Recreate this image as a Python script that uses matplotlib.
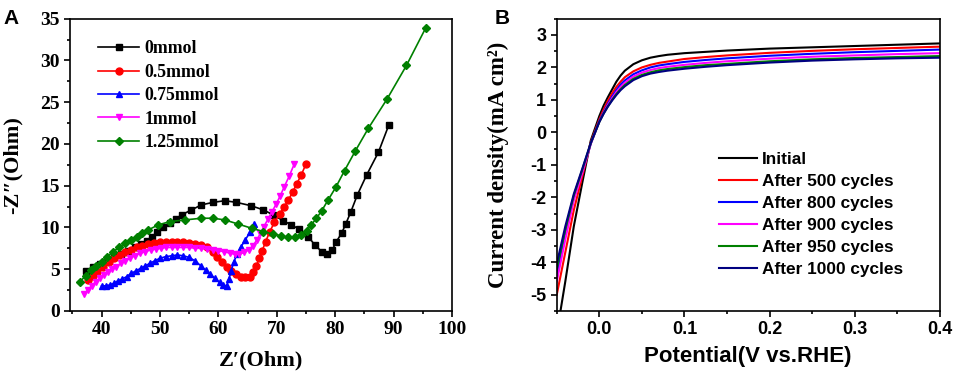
import matplotlib
matplotlib.use('Agg')
import matplotlib.pyplot as plt
from matplotlib.ticker import MultipleLocator

# panel A: Nyquist data (Z', -Z'')
z0_x = [37.4, 38.6, 39.8, 41.0, 42.2, 43.4, 44.6, 45.8, 46.8, 47.7, 48.6, 49.5, 50.6, 51.7, 52.7, 53.7,
        55.4, 57.1, 59.1, 61.1, 63.1, 65.6, 67.7, 69.4, 71.1, 72.5, 73.8, 75.4, 76.5, 77.7, 78.6, 79.5,
        80.2, 81.1, 81.8, 82.7, 83.8, 85.4, 87.4, 89.2]
z0_y = [4.8, 5.2, 5.6, 6.0, 6.4, 6.8, 7.2, 7.6, 8.0, 8.4, 8.9, 9.4, 10.0, 10.5, 11.0, 11.5,
        12.1, 12.7, 13.0, 13.2, 13.0, 12.6, 12.1, 11.5, 10.8, 10.3, 9.8, 8.9, 7.9, 7.1, 6.8, 7.3,
        8.3, 9.3, 10.4, 11.9, 13.9, 16.3, 19.0, 22.3]

z05_x = [37.7, 38.5, 39.3, 40.3, 41.2, 42.1, 43.1, 44.0, 45.0, 46.0, 47.0, 48.0, 49.0, 50.0, 51.0,
         52.0, 53.0, 54.0, 55.0, 56.0, 57.0, 58.0, 59.0, 59.8, 60.6, 61.4, 62.2, 63.0, 63.8, 64.6,
         65.4, 66.0, 66.5, 67.0, 67.5, 68.1, 68.8, 69.6, 70.5, 71.3, 72.0, 72.7, 73.4, 74.2, 75.0]
z05_y = [3.7, 4.2, 4.7, 5.3, 5.8, 6.3, 6.7, 7.0, 7.3, 7.6, 7.8, 8.0, 8.1, 8.2, 8.2,
         8.2, 8.2, 8.2, 8.1, 8.0, 7.9, 7.6, 7.0, 6.5, 5.9, 5.3, 4.8, 4.4, 4.1, 4.0,
         4.1, 4.6, 5.4, 6.3, 7.2, 8.3, 9.5, 10.6, 11.6, 12.5, 13.3, 14.2, 15.2, 16.3, 17.6]

z075_x = [40.0, 40.7, 41.4, 42.1, 42.8, 43.5, 44.3, 45.1, 45.9, 46.7, 47.5, 48.3, 49.1, 50.0, 51.0,
          52.0, 53.0, 54.0, 55.0, 56.0, 57.0, 57.8, 58.6, 59.4, 60.2, 60.8, 61.4, 61.8, 62.2, 62.6,
          63.2, 63.8, 64.6, 65.4, 66.1]
z075_y = [3.0, 3.0, 3.1, 3.3, 3.6, 3.8, 4.1, 4.5, 4.8, 5.1, 5.4, 5.7, 6.0, 6.3, 6.5,
          6.6, 6.7, 6.6, 6.4, 6.0, 5.4, 4.9, 4.4, 3.9, 3.4, 3.1, 3.0, 3.8, 4.8, 5.8,
          6.8, 7.6, 8.5, 9.4, 10.4]

z1_x = [37.0, 37.6, 38.3, 39.0, 39.7, 40.4, 41.1, 41.8, 42.5, 43.3, 44.1, 44.9, 45.7, 46.6, 47.5,
        48.4, 49.3, 50.2, 51.1, 52.0, 53.0, 54.0, 55.0, 56.0, 57.0, 58.0, 59.0, 60.0, 61.0, 62.0,
        62.8, 63.6, 64.4, 65.2, 65.9, 66.6, 67.2, 67.8, 68.5, 69.2, 69.9, 70.6, 71.3, 72.1, 73.0]
z1_y = [2.0, 2.5, 3.0, 3.5, 3.9, 4.3, 4.7, 5.0, 5.3, 5.7, 6.0, 6.3, 6.6, 6.9, 7.1,
        7.3, 7.4, 7.5, 7.6, 7.6, 7.6, 7.6, 7.6, 7.5, 7.5, 7.4, 7.3, 7.2, 7.1, 6.9,
        6.8, 6.8, 7.0, 7.3, 7.8, 8.5, 9.3, 10.1, 11.0, 11.9, 12.8, 13.8, 14.9, 16.1, 17.6]

z125_x = [36.3, 37.3, 38.2, 39.1, 40.0, 41.0, 42.0, 43.0, 44.0, 45.0, 46.0, 47.0, 48.0, 49.7, 51.7,
          54.3, 57.1, 59.1, 61.1, 63.4, 65.7, 67.7, 69.4, 70.8, 71.9, 73.1, 74.2, 75.1, 75.9, 76.8,
          77.7, 78.8, 80.1, 81.6, 83.4, 85.7, 88.9, 92.2, 95.5]
z125_y = [3.5, 4.2, 4.9, 5.4, 5.9, 6.5, 7.1, 7.6, 8.1, 8.5, 8.9, 9.3, 9.7, 10.3, 10.7,
          10.9, 11.1, 11.1, 10.9, 10.4, 9.9, 9.5, 9.2, 9.0, 8.8, 8.8, 9.1, 9.6, 10.3, 11.1,
          12.0, 13.3, 14.8, 16.8, 19.1, 21.9, 25.4, 29.4, 33.9]

nyq_labels = ['0mmol', '0.5mmol', '0.75mmol', '1mmol', '1.25mmol']

# panel B: polarization curves
pot = [-0.05, -0.04, -0.03, -0.02, -0.01, 0.0, 0.005, 0.01, 0.015, 0.02, 0.025, 0.03, 0.04, 0.05,
       0.06, 0.07, 0.08, 0.1, 0.125, 0.15, 0.2, 0.25, 0.3, 0.35, 0.4]
j_init = [-6.2, -4.6, -2.9, -1.55, -0.25, 0.5, 0.82, 1.08, 1.32, 1.56, 1.75, 1.9, 2.1, 2.22,
          2.3, 2.35, 2.39, 2.44, 2.48, 2.52, 2.58, 2.62, 2.66, 2.70, 2.74]
j_500 = [-5.0, -3.7, -2.4, -1.35, -0.3, 0.4, 0.7, 0.97, 1.2, 1.4, 1.56, 1.7, 1.88, 2.0,
         2.08, 2.14, 2.18, 2.26, 2.32, 2.37, 2.45, 2.51, 2.56, 2.60, 2.64]
j_800 = [-4.4, -3.1, -2.0, -1.2, -0.35, 0.35, 0.62, 0.88, 1.1, 1.3, 1.47, 1.6, 1.79, 1.91,
         2.0, 2.06, 2.1, 2.17, 2.23, 2.28, 2.36, 2.42, 2.47, 2.51, 2.55]
j_900 = [-4.6, -3.3, -2.1, -1.25, -0.35, 0.33, 0.6, 0.84, 1.05, 1.24, 1.4, 1.53, 1.72, 1.84,
         1.92, 1.98, 2.02, 2.08, 2.14, 2.19, 2.27, 2.33, 2.37, 2.41, 2.44]
j_950 = [-4.2, -3.0, -1.95, -1.15, -0.33, 0.32, 0.58, 0.8, 1.0, 1.18, 1.33, 1.46, 1.65, 1.77,
         1.85, 1.91, 1.95, 2.01, 2.07, 2.11, 2.19, 2.25, 2.29, 2.32, 2.35]
j_1000 = [-4.05, -2.9, -1.9, -1.12, -0.32, 0.32, 0.57, 0.79, 0.98, 1.15, 1.3, 1.42, 1.61, 1.73,
          1.81, 1.86, 1.9, 1.96, 2.02, 2.07, 2.15, 2.21, 2.25, 2.28, 2.30]
lsv_labels = ['Initial', 'After 500 cycles', 'After 800 cycles', 'After 900 cycles',
              'After 950 cycles', 'After 1000 cycles']

serif = ['Liberation Serif', 'DejaVu Serif']
sans = ['Liberation Sans', 'DejaVu Sans']

fig = plt.figure(figsize=(9.55, 3.75), dpi=100)

# ---- A ----
ax1 = fig.add_axes([0.0733, 0.171, 0.400, 0.779])
nyq = [(z0_x, z0_y, 'black', 's', 4), (z05_x, z05_y, '#FF0000', 'o', 5),
       (z075_x, z075_y, '#0000FF', '^', 5), (z1_x, z1_y, '#FF00FF', 'v', 5),
       (z125_x, z125_y, '#008000', 'D', 4.5)]
for (xs, ys, c, m, ms), lab in zip(nyq, nyq_labels):
    ax1.plot(xs, ys, color=c, marker=m, markersize=ms, linewidth=1.2, label=lab)
ax1.set_xlim(34.6, 100)
ax1.set_ylim(0, 35)
ax1.xaxis.set_major_locator(MultipleLocator(10))
ax1.xaxis.set_minor_locator(MultipleLocator(5))
ax1.yaxis.set_major_locator(MultipleLocator(5))
ax1.yaxis.set_minor_locator(MultipleLocator(2.5))
ax1.tick_params(which='both', direction='out', width=1.2, top=False, right=False)
ax1.tick_params(which='major', length=4)
ax1.tick_params(which='minor', length=2.5)
for lbl in ax1.get_xticklabels() + ax1.get_yticklabels():
    lbl.set_family(serif)
    lbl.set_fontweight('bold')
    lbl.set_fontsize(14)
ax1.set_xlabel('Z\u2032(Ohm)', family=serif, fontweight='bold', fontsize=16)
ax1.set_ylabel('-Z\u2033(Ohm)', family=serif, fontweight='bold', fontsize=16)
ax1.xaxis.set_label_coords(0.5, -0.135)
ax1.yaxis.set_label_coords(-0.125, 0.5)
for s in ax1.spines.values():
    s.set_linewidth(1.2)
ax1.legend(loc='upper left', bbox_to_anchor=(0.055, 0.95), frameon=False,
           prop={'family': serif, 'weight': 'bold', 'size': 12.8},
           handlelength=2.3, handletextpad=0.3, labelspacing=0.36, borderaxespad=0)
fig.text(0.004, 0.975, 'A', family=sans, fontweight='bold', fontsize=15, va='top')

# ---- B ----
ax2 = fig.add_axes([0.583, 0.171, 0.401, 0.779])
lsv = [(j_init, 'black'), (j_500, '#FF0000'), (j_800, '#0000FF'), (j_900, '#FF00FF'),
       (j_950, '#008000'), (j_1000, '#000080')]
for (ys, c), lab in zip(lsv, lsv_labels):
    ax2.plot(pot, ys, color=c, linewidth=1.5, label=lab)
ax2.set_xlim(-0.05, 0.4)
ax2.set_ylim(-5.5, 3.5)
ax2.xaxis.set_minor_locator(MultipleLocator(0.05))
ax2.yaxis.set_minor_locator(MultipleLocator(0.5))
ax2.set_xticks([0.0, 0.1, 0.2, 0.3, 0.4])
ax2.set_xticklabels(['0.0', '0.1', '0.2', '0.3', '0.4'])
ax2.set_yticks([-5, -4, -3, -2, -1, 0, 1, 2, 3])
ax2.set_yticklabels(['-5', '-4', '-3', '-2', '-1', '0', '1', '2', '3'])
ax2.tick_params(which='both', direction='out', width=1.2, top=False, right=False)
ax2.tick_params(which='major', length=4)
ax2.tick_params(which='minor', length=2.5)
for lbl in ax2.get_xticklabels() + ax2.get_yticklabels():
    lbl.set_family(sans)
    lbl.set_fontweight('bold')
    lbl.set_fontsize(13)
ax2.set_xlabel('Potential(V vs.RHE)', family=sans, fontweight='bold', fontsize=16)
ax2.set_ylabel('Current density(mA cm\u00b2)', family=serif, fontweight='bold', fontsize=16.5)
ax2.xaxis.set_label_coords(0.5, -0.12)
ax2.yaxis.set_label_coords(-0.125, 0.5)
for s in ax2.spines.values():
    s.set_linewidth(1.2)
ax2.legend(loc='upper left', bbox_to_anchor=(0.405, 0.566), frameon=False,
           prop={'family': sans, 'weight': 'bold', 'size': 12.4},
           handlelength=2.2, handletextpad=0.3, labelspacing=0.4, borderaxespad=0)
fig.text(0.518, 0.975, 'B', family=sans, fontweight='bold', fontsize=15, va='top')

plt.savefig('out.png', dpi=100)
